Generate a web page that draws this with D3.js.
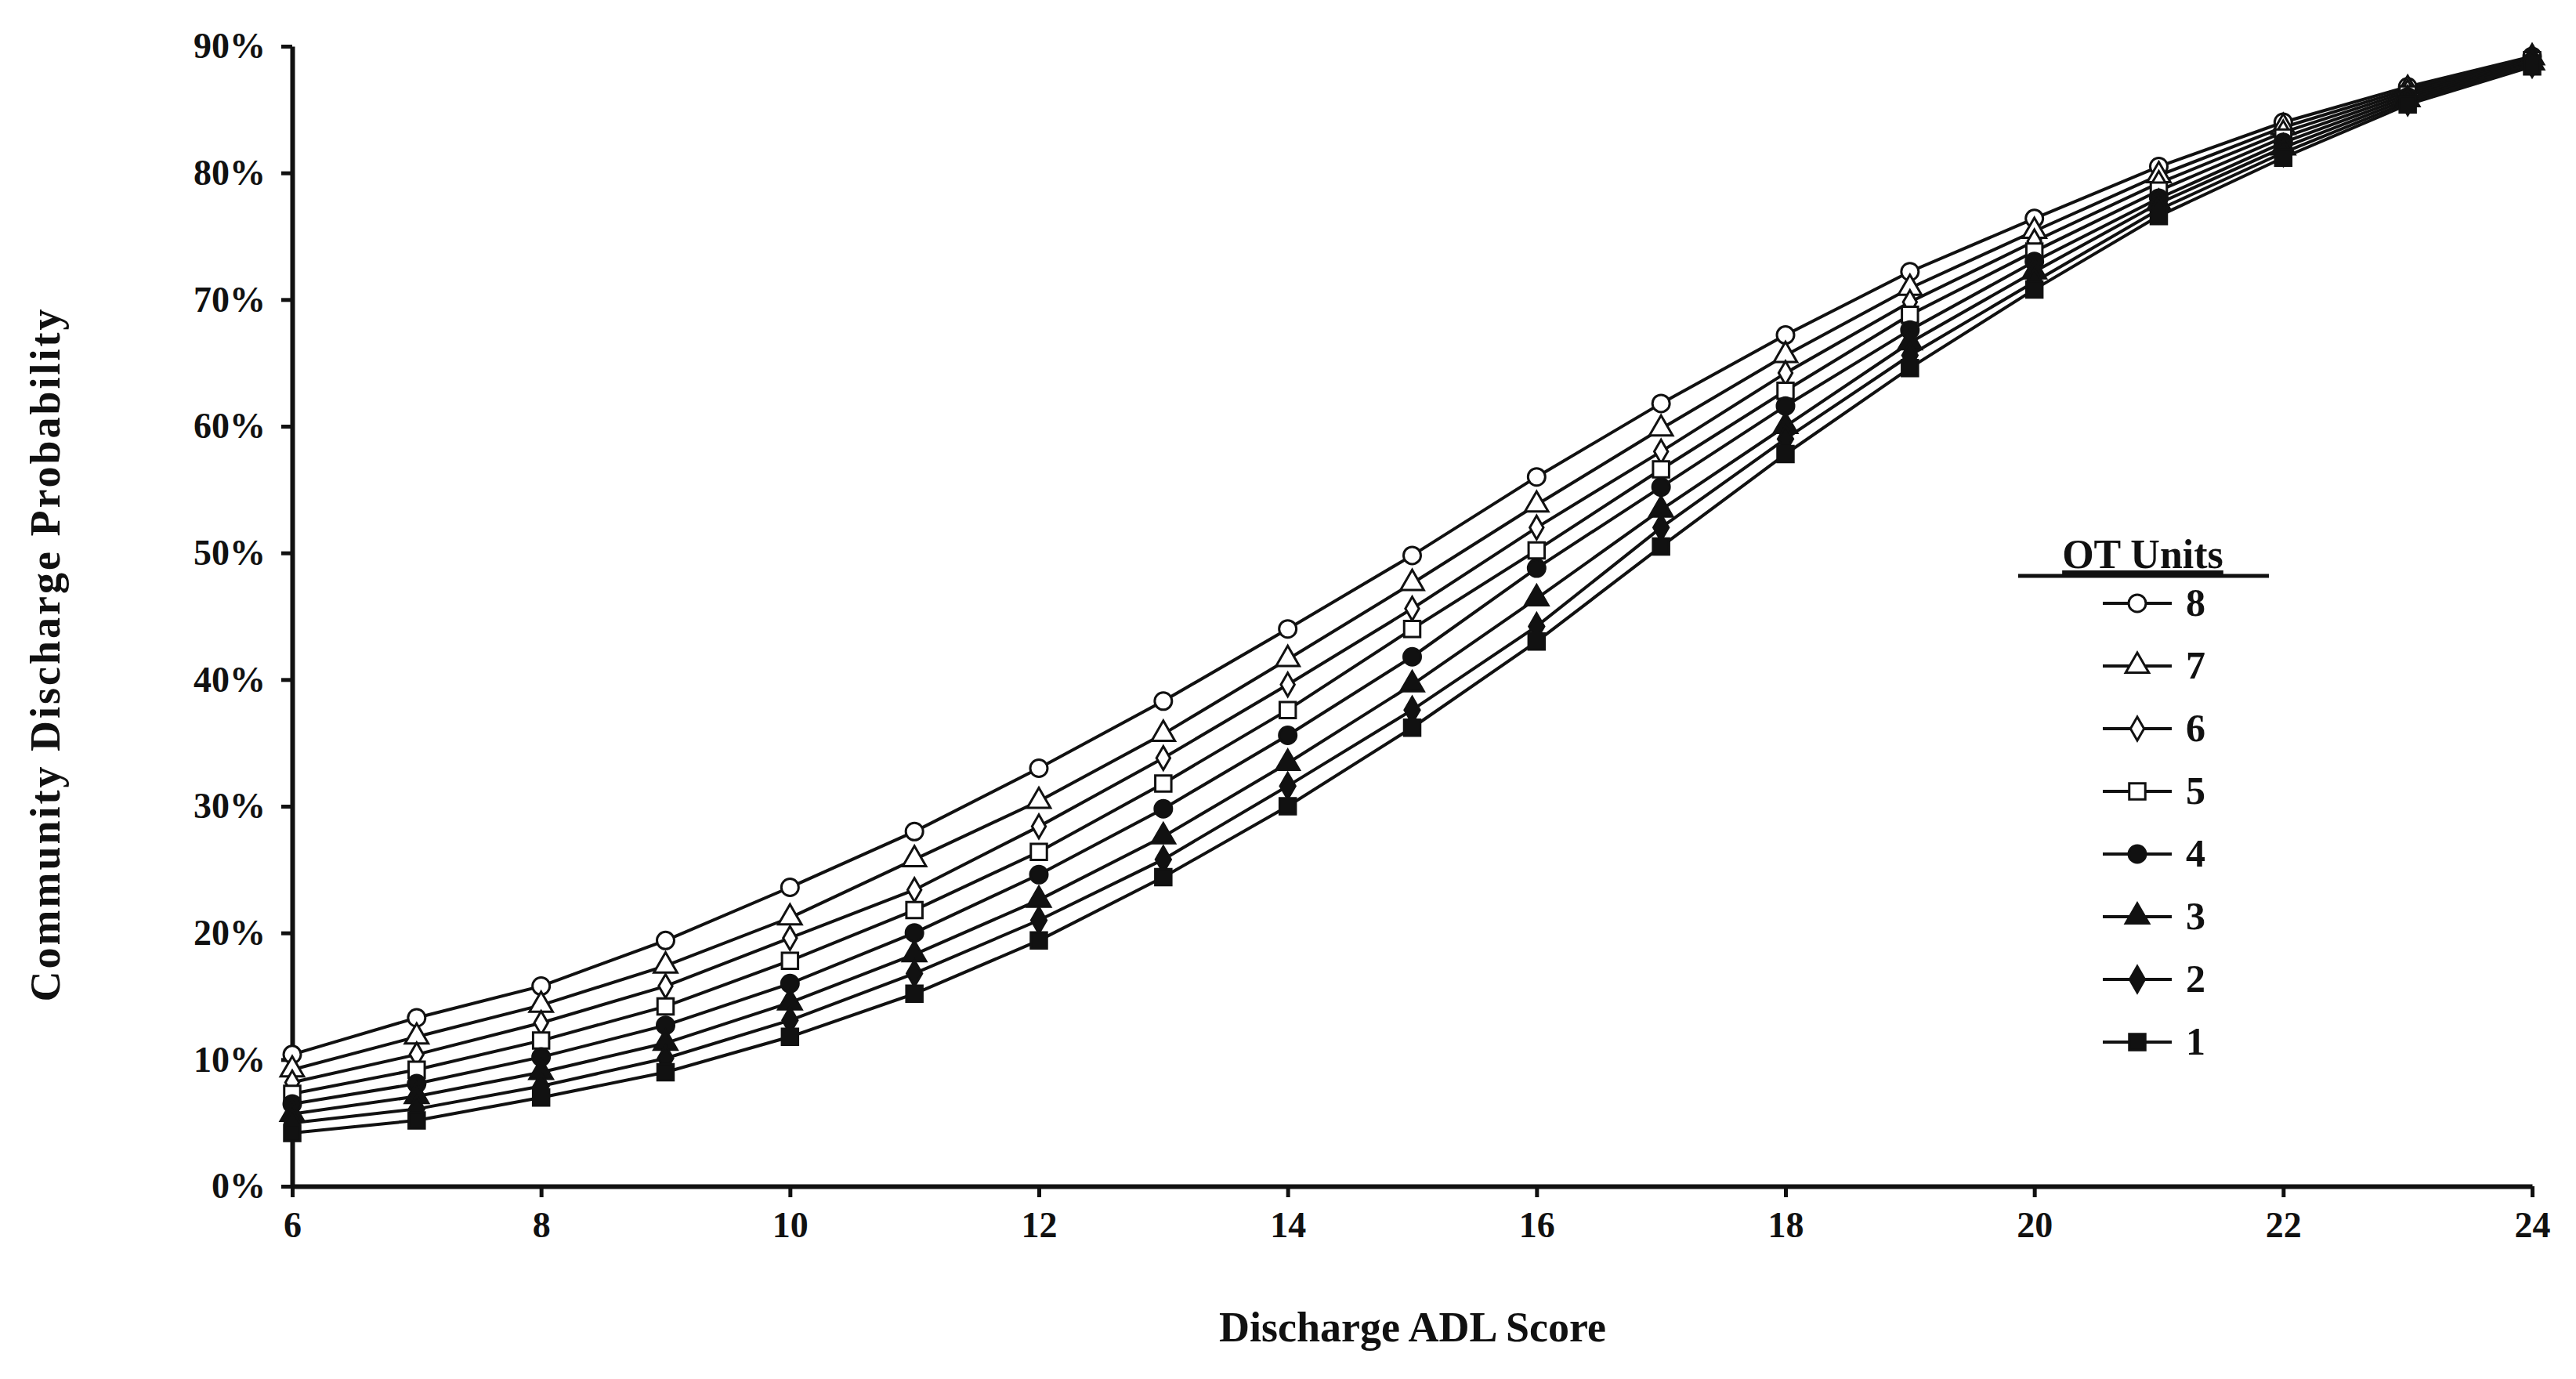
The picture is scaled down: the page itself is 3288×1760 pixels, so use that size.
<!DOCTYPE html>
<html>
<head>
<meta charset="utf-8">
<script src="https://cdn.jsdelivr.net/npm/d3@7"></script>
<style>
  body { margin: 0; background: #fff; }
  text { font-family: "Liberation Serif", "DejaVu Serif", serif; font-weight: bold; fill: #111; }
</style>
</head>
<body>
<div class="canvas"></div>
<script>
// data
const adlScores = [6,7,8,9,10,11,12,13,14,15,16,17,18,19,20,21,22,23,24];
const otUnits = [8,7,6,5,4,3,2,1];
const yTicks = [0,10,20,30,40,50,60,70,80,90];
const xTicks = [6,8,10,12,14,16,18,20,22,24];

const ot8 = [10.4,13.3,15.8,19.4,23.6,28.0,33.0,38.3,44.0,49.8,56.0,61.8,67.2,72.2,76.4,80.5,84.0,86.8,89.2];
const ot7 = [9.2,11.8,14.3,17.4,21.2,25.8,30.4,35.7,41.6,47.6,53.8,59.8,65.6,70.9,75.4,79.8,83.6,86.6,89.1];
const ot6 = [8.2,10.4,12.9,15.8,19.6,23.4,28.4,33.8,39.6,45.6,52.0,58.0,64.2,69.8,74.6,79.2,83.2,86.4,89.0];
const ot5 = [7.3,9.2,11.5,14.2,17.8,21.8,26.4,31.8,37.6,44.0,50.2,56.6,62.8,68.8,73.8,78.6,82.8,86.2,88.9];
const ot4 = [6.5,8.1,10.2,12.7,16.0,20.0,24.6,29.8,35.6,41.8,48.8,55.2,61.6,67.6,73.0,78.0,82.4,86.0,88.8];
const ot3 = [5.7,7.1,9.0,11.3,14.5,18.3,22.6,27.6,33.4,39.6,46.4,53.4,60.0,66.6,72.2,77.6,82.0,85.8,88.7];
const ot2 = [5.0,6.1,7.9,10.1,13.1,16.8,21.0,25.8,31.6,37.6,44.2,52.0,59.0,65.6,71.4,77.1,81.6,85.6,88.6];
const ot1 = [4.2,5.2,7.0,9.0,11.8,15.2,19.4,24.4,30.0,36.2,43.0,50.5,57.8,64.6,70.8,76.6,81.2,85.4,88.4];

const seriesValues = [ot8, ot7, ot6, ot5, ot4, ot3, ot2, ot1];
const markers = [
  {type: d3.symbolCircle, fill: '#fff', size: 380},
  {type: d3.symbolTriangle, fill: '#fff', size: 380},
  {type: d3.symbolDiamond, fill: '#fff', size: 260},
  {type: d3.symbolSquare, fill: '#fff', size: 420},
  {type: d3.symbolCircle, fill: '#111', size: 380},
  {type: d3.symbolTriangle, fill: '#111', size: 380},
  {type: d3.symbolDiamond, fill: '#111', size: 320},
  {type: d3.symbolSquare, fill: '#111', size: 420}
];

const svg = d3.select('.canvas')
  .append('svg')
    .attr('width', 3288)
    .attr('height', 1760);

const margin = {top: 59, left: 373};
const graphWidth = 3232 - 373;
const graphHeight = 1514 - 59;

const graph = svg.append('g')
  .attr('transform', `translate(${margin.left},${margin.top})`);

const x = d3.scaleLinear().domain([6, 24]).range([0, graphWidth]);
const y = d3.scaleLinear().domain([0, 90]).range([graphHeight, 0]);

// axes
const xAxis = d3.axisBottom(x).tickValues(xTicks).tickSize(14).tickPadding(18).tickSizeOuter(0);
const yAxis = d3.axisLeft(y).tickValues(yTicks).tickFormat(d => d + '%').tickSize(14).tickPadding(20).tickSizeOuter(0);

const gx = graph.append('g').attr('transform', `translate(0,${graphHeight})`).call(xAxis);
const gy = graph.append('g').call(yAxis);
[gx, gy].forEach(g => {
  g.select('.domain').attr('stroke', '#111').attr('stroke-width', 6);
  g.selectAll('.tick line').attr('stroke', '#111').attr('stroke-width', 5);
  g.selectAll('.tick text').style('font-size', '46px').style('font-family', '"Liberation Serif", serif').style('font-weight', 'bold').attr('fill', '#111');
});

// lines
const line = d3.line().x((d, i) => x(adlScores[i])).y(d => y(d));
seriesValues.forEach(vals => {
  graph.append('path').datum(vals)
    .attr('d', line)
    .attr('fill', 'none')
    .attr('stroke', '#111')
    .attr('stroke-width', 4);
});

// markers
seriesValues.forEach((vals, s) => {
  const m = markers[s];
  graph.selectAll(null).data(vals).enter()
    .append('path')
      .attr('d', d3.symbol().type(m.type).size(m.size))
      .attr('transform', (d, i) => `translate(${x(adlScores[i])},${y(d)})`)
      .attr('fill', m.fill)
      .attr('stroke', '#111')
      .attr('stroke-width', 3);
});

// axis titles
svg.append('text')
  .attr('x', 1803).attr('y', 1712)
  .attr('text-anchor', 'middle')
  .style('font-size', '54px')
  .text('Discharge ADL Score');

svg.append('text')
  .attr('transform', 'translate(76,835) rotate(-90)')
  .attr('text-anchor', 'middle')
  .style('font-size', '54px')
  .style('letter-spacing', '3px')
  .text('Community Discharge Probability');

// legend
const legend = svg.append('g');
legend.append('text')
  .attr('x', 2735).attr('y', 725)
  .attr('text-anchor', 'middle')
  .style('font-size', '52px')
  .style('text-decoration', 'underline')
  .text('OT Units');
legend.append('line')
  .attr('x1', 2576).attr('x2', 2896).attr('y1', 735).attr('y2', 735)
  .attr('stroke', '#111').attr('stroke-width', 5);

otUnits.forEach((u, s) => {
  const ly = 770 + s * 80;
  legend.append('line')
    .attr('x1', 2684).attr('x2', 2772).attr('y1', ly).attr('y2', ly)
    .attr('stroke', '#111').attr('stroke-width', 4);
  legend.append('path')
    .attr('d', d3.symbol().type(markers[s].type).size(markers[s].size))
    .attr('transform', `translate(2728,${ly})`)
    .attr('fill', markers[s].fill)
    .attr('stroke', '#111')
    .attr('stroke-width', 3);
  legend.append('text')
    .attr('x', 2790).attr('y', ly + 16)
    .style('font-size', '50px')
    .text(u);
});
</script>
</body>
</html>
